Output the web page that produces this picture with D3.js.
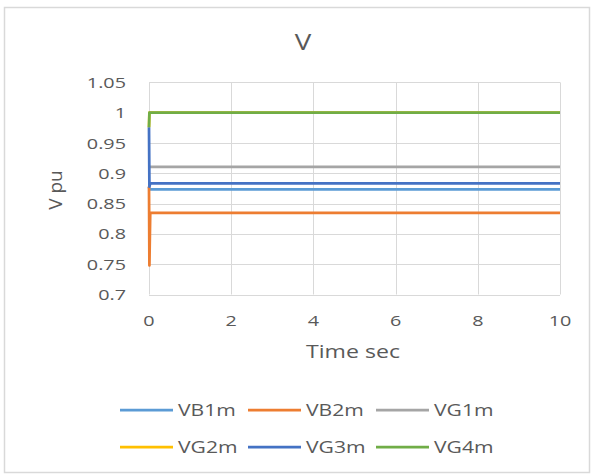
<!DOCTYPE html>
<html><head><meta charset="utf-8">
<script src="https://cdn.jsdelivr.net/npm/d3@7"></script>
<style>body{margin:0;background:#fff}svg{display:block}text{font-family:"Open Sans",sans-serif;fill:#595959}</style>
</head><body><svg id="c" width="598" height="475"></svg>
<script>
const time = [0, 0.01, 0.03, 10];
const VB1m = [0.878, 0.8734, 0.8734, 0.8734];
const VB2m = [0.878, 0.748, 0.8348, 0.8348];
const VG1m = [0.9108, 0.9108, 0.9108, 0.9108];
const VG2m = [0.976, 1.0, 1.0, 1.0];
const VG3m = [0.976, 0.878, 0.8833, 0.8833];
const VG4m = [0.976, 1.0, 1.0, 1.0];
const seriesNames = ["VB1m","VB2m","VG1m","VG2m","VG3m","VG4m"];
const seriesValues = [VB1m, VB2m, VG1m, VG2m, VG3m, VG4m];
const colors = ["#5B9BD5","#ED7D31","#A5A5A5","#FFC000","#4472C4","#70AD47"];
const xTicks = [0,2,4,6,8,10];
const yTicks = [0.7,0.75,0.8,0.85,0.9,0.95,1,1.05];
const yTickLabels = ["0.7","0.75","0.8","0.85","0.9","0.95","1","1.05"];

const SX = 1.32;
const svg = d3.select("#c");
svg.append("rect").attr("x",4.5).attr("y",7.5).attr("width",585).attr("height",465)
  .attr("fill","#fff").attr("stroke","#d9d9d9").attr("stroke-width",1.5);

const x = d3.scaleLinear().domain([0,10]).range([149,560]);
const y = d3.scaleLinear().domain([0.7,1.05]).range([294.5,82.4]);

function txt(parent, px, py, s, size, anchor){
  const g = parent.append("g").attr("transform",`translate(${px},${py}) scale(${SX},1)`);
  g.append("text").attr("text-anchor",anchor).attr("font-size",size).text(s);
  return g;
}

// gridlines
const grid = svg.append("g").attr("stroke","#d9d9d9").attr("stroke-width",1);
yTicks.forEach(v=>grid.append("line").attr("x1",x(0)).attr("x2",x(10)).attr("y1",Math.round(y(v))+0.5).attr("y2",Math.round(y(v))+0.5));
xTicks.forEach(v=>grid.append("line").attr("y1",y(1.05)).attr("y2",y(0.7)).attr("x1",Math.round(x(v))+0.5).attr("x2",Math.round(x(v))+0.5));

// tick labels
yTicks.forEach((v,i)=>txt(svg, 126, y(v)+5.5, yTickLabels[i], 15, "end"));
xTicks.forEach(v=>txt(svg, x(v), 326, String(v), 15, "middle"));

// titles
txt(svg, 303, 50, "V", 21, "middle");
txt(svg, 353, 357.5, "Time sec", 17.5, "middle");
svg.append("g").attr("transform","translate(62,190) rotate(-90)")
  .append("text").attr("text-anchor","middle").attr("font-size",19).text("V pu");

// lines
const line = d3.line().x((d,i)=>x(time[i])).y(d=>y(d));
seriesValues.forEach((vals,i)=>{
  svg.append("path").attr("d",line(vals)).attr("fill","none")
    .attr("stroke",colors[i]).attr("stroke-width",2.75).attr("stroke-linejoin","round");
});

// legend
const legX = [120,248,376], legY = [410,447];
seriesNames.forEach((n,i)=>{
  const cx = legX[i%3], cy = legY[Math.floor(i/3)];
  svg.append("line").attr("x1",cx).attr("x2",cx+53).attr("y1",cy).attr("y2",cy)
    .attr("stroke",colors[i]).attr("stroke-width",2.75);
  txt(svg, cx+58, cy+6, n, 16, "start");
});
</script></body></html>
